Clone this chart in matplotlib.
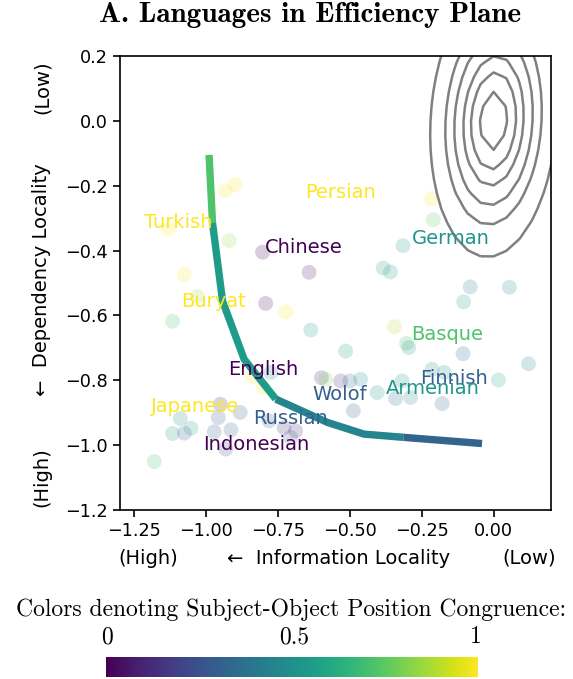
import matplotlib.pyplot as plt
import numpy as np

# observed languages: information locality (x), dependency locality (y),
# subject-object position congruence (colour value)
lang_x = [-0.900, -0.934, -1.132, -0.920, -0.804, -0.642, -1.076, -1.030, -0.793, -0.723,
          -1.117, -0.636, -0.217, -0.210, -0.315, -0.384, -0.359, -0.081, 0.055, -0.104,
          -0.345, -0.303, -0.295, -0.515, -0.106, 0.122, -0.839, -0.775, -0.802, -0.599,
          -0.584, -0.532, -0.500, -0.463, -0.405, -0.318, -0.341, -0.289, -0.214, -0.171,
          -0.179, 0.017, -0.488, -0.729, -0.689, -0.706, -0.781, -0.951, -0.958, -0.882,
          -0.972, -0.914, -0.932, -1.090, -1.117, -1.076, -1.053, -1.181]
lang_y = [-0.197, -0.215, -0.333, -0.369, -0.405, -0.467, -0.474, -0.541, -0.563, -0.589,
          -0.618, -0.645, -0.241, -0.305, -0.385, -0.454, -0.466, -0.512, -0.513, -0.558,
          -0.635, -0.686, -0.699, -0.710, -0.718, -0.749, -0.789, -0.776, -0.822, -0.792,
          -0.797, -0.802, -0.802, -0.797, -0.838, -0.802, -0.856, -0.853, -0.766, -0.776,
          -0.872, -0.799, -0.894, -0.946, -0.956, -0.976, -0.925, -0.874, -0.915, -0.899,
          -0.959, -0.953, -1.012, -0.918, -0.964, -0.963, -0.948, -1.051]
lang_c = [1.0, 1.0, 1.0, 0.85, 0.0, 0.05, 1.0, 0.85, 0.05, 1.0,
          0.7, 0.55, 1.0, 0.75, 0.55, 0.55, 0.55, 0.4, 0.45, 0.55,
          0.9, 0.7, 0.5, 0.55, 0.35, 0.45, 1.0, 0.5, 1.0, 0.1,
          0.8, 0.1, 0.35, 0.5, 0.5, 0.5, 0.35, 0.45, 0.5, 0.5,
          0.3, 0.6, 0.3, 0.1, 0.1, 0.3, 0.3, 0.1, 0.3, 0.3,
          0.3, 0.3, 0.25, 0.5, 0.55, 0.3, 0.55, 0.7]

# named languages
label_names = ["Persian", "Turkish", "Chinese", "German", "Buryat", "Basque", "English",
               "Finnish", "Armenian", "Wolof", "Japanese", "Russian", "Indonesian"]
label_x = [-0.654, -1.216, -0.797, -0.283, -1.087, -0.286, -0.924,
           -0.255, -0.376, -0.630, -1.192, -0.838, -1.012]
label_y = [-0.222, -0.314, -0.391, -0.363, -0.557, -0.658, -0.766,
           -0.794, -0.825, -0.843, -0.880, -0.917, -0.997]
label_c = [1.0, 1.0, 0.0, 0.52, 1.0, 0.72, 0.0,
           0.3, 0.52, 0.3, 1.0, 0.3, 0.0]

# optimised grammars frontier, congruence per segment
frontier_x = [-0.990, -0.978, -0.943, -0.868, -0.758, -0.578, -0.451, -0.3125, -0.040]
frontier_y = [-0.105, -0.315, -0.556, -0.735, -0.858, -0.930, -0.966, -0.976, -0.995]
frontier_c = [0.72, 0.55, 0.55, 0.55, 0.45, 0.45, 0.45, 0.32]

# baseline grammars density (centre, spread, correlation, ring radii)
base_center = (0.0, 0.0)
base_scale = (0.105, 0.2)
base_rho = 0.1
base_levels = [0.45, 0.75, 1.0, 1.3, 1.6, 2.1]

W, H = 573, 679
cmap = plt.get_cmap("viridis")

fig = plt.figure(figsize=(W / 100, H / 100), dpi=100)
ax = fig.add_axes([120 / W, 1 - 510 / H, (551 - 120) / W, (510 - 56) / H])

# density contours of random baseline grammars (coarse grid)
gx = base_center[0] + np.arange(-0.54, 0.541, 0.045)
gy = base_center[1] + np.arange(-0.63, 0.631, 0.045)
GX, GY = np.meshgrid(gx, gy)
dx = (GX - base_center[0]) / base_scale[0]
dy = (GY - base_center[1]) / base_scale[1]
R = np.sqrt((dx ** 2 - 2 * base_rho * dx * dy + dy ** 2) / (1 - base_rho ** 2))
ax.contour(GX, GY, R, levels=base_levels, colors="#808080", linewidths=1.8, zorder=2)

ax.scatter(lang_x, lang_y, c=lang_c, cmap="viridis", vmin=0, vmax=1,
           s=115, alpha=0.2, edgecolors="none", zorder=1)

# frontier: join consecutive segments of equal colour into one polyline
start = 0
for i in range(1, len(frontier_c) + 1):
    if i == len(frontier_c) or frontier_c[i] != frontier_c[start]:
        ax.plot(frontier_x[start:i + 1], frontier_y[start:i + 1],
                color=cmap(frontier_c[start]), lw=5.3, solid_capstyle="butt",
                solid_joinstyle="miter", zorder=3)
        start = i

for name, x, y, c in zip(label_names, label_x, label_y, label_c):
    ax.text(x, y, name, color=cmap(c), fontsize=14, ha="left", va="center", zorder=4)

ax.set_xlim(-1.3, 0.2)
ax.set_ylim(-1.2, 0.2)
ax.set_xticks(np.arange(-1.25, 0.01, 0.25))
ax.set_yticks(np.arange(-1.2, 0.21, 0.2))
ax.tick_params(labelsize=12.7, width=1.2, length=5)
for spine in ax.spines.values():
    spine.set_linewidth(1.2)

# axis captions
fig.text(148 / W, 1 - 558 / H, "(High)", fontsize=14, ha="center", va="center")
fig.text(339 / W, 1 - 558 / H, "\u2190  Information Locality", fontsize=14,
         ha="center", va="center")
fig.text(529 / W, 1 - 558 / H, "(Low)", fontsize=14, ha="center", va="center")
fig.text(42 / W, 1 - 87 / H, "(Low)", fontsize=14, rotation=90, ha="center", va="center")
fig.text(42 / W, 1 - 280 / H, "\u2190  Dependency Locality", fontsize=14, rotation=90,
         ha="center", va="center")
fig.text(42 / W, 1 - 477 / H, "(High)", fontsize=14, rotation=90, ha="center", va="center")

fig.text(310 / W, 1 - 15 / H, "A. Languages in Efficiency Plane", family="cmb10",
         fontsize=21, ha="center", va="center")

# colour legend
fig.text(291 / W, 1 - 610 / H, "Colors denoting Subject-Object Position Congruence:",
         family="cmr10", fontsize=17, ha="center", va="center")
for val, px in [("0", 107), ("0.5", 294), ("1", 476)]:
    fig.text(px / W, 1 - 637 / H, val, family="cmr10", fontsize=17,
             ha="center", va="center")
cax = fig.add_axes([106 / W, 1 - 677 / H, (478 - 106) / W, 20 / H])
cax.imshow(np.linspace(0, 1, 256)[None, :], aspect="auto", cmap="viridis")
cax.axis("off")

fig.savefig("out.png", dpi=100)
